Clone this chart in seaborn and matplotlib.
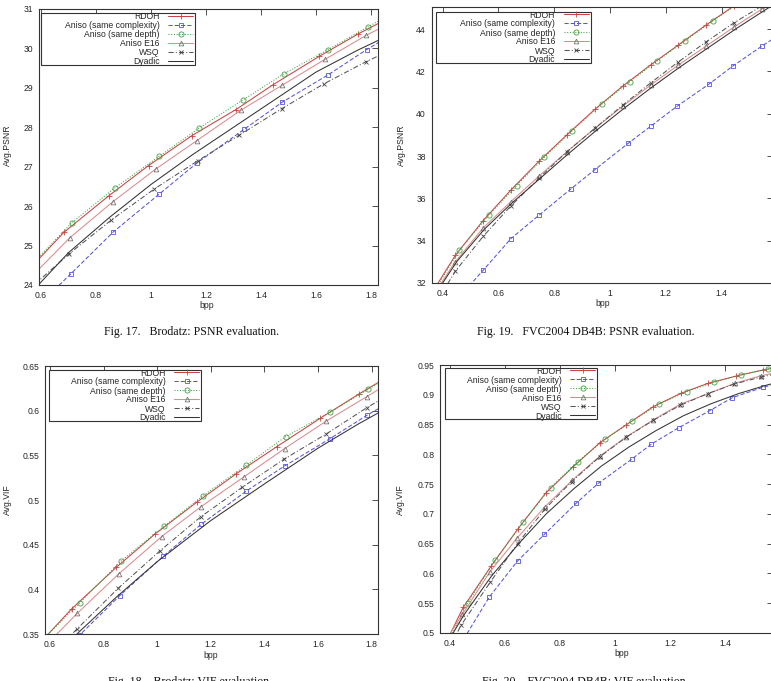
import matplotlib
matplotlib.use('Agg')
import matplotlib.pyplot as plt
import seaborn as sns
from matplotlib.patches import Rectangle
from matplotlib.ticker import FuncFormatter

sns.set_style('white')
plt.rcParams['font.family'] = ['Liberation Sans', 'DejaVu Sans']

W, H = 771, 681
LABELS = ["RDOH", "Aniso (same complexity)", "Aniso (same depth)", "Aniso E16", "WSQ", "Dyadic"]

# Fig. 17 - Brodatz PSNR
b_psnr_rdoh_x = [0.55, 0.684, 0.846, 0.991, 1.149, 1.309, 1.444, 1.612, 1.754, 1.90]
b_psnr_rdoh_y = [24.35, 25.34, 26.26, 27.03, 27.79, 28.45, 29.08, 29.80, 30.37, 30.90]
b_psnr_cplx_x = [0.60, 0.708, 0.862, 1.029, 1.168, 1.339, 1.478, 1.644, 1.784, 1.90]
b_psnr_cplx_y = [23.55, 24.28, 25.34, 26.30, 27.10, 27.95, 28.64, 29.33, 29.97, 30.45]
b_psnr_depth_x = [0.55, 0.712, 0.868, 1.029, 1.175, 1.336, 1.484, 1.644, 1.790, 1.90]
b_psnr_depth_y = [24.40, 25.58, 26.46, 27.26, 27.98, 28.70, 29.36, 29.97, 30.55, 30.98]
b_psnr_e16_x = [0.55, 0.705, 0.861, 1.017, 1.166, 1.326, 1.475, 1.632, 1.782, 1.90]
b_psnr_e16_y = [24.10, 25.20, 26.11, 26.94, 27.66, 28.43, 29.06, 29.72, 30.33, 30.75]
b_psnr_wsq_x = [0.55, 0.702, 0.856, 1.011, 1.170, 1.321, 1.475, 1.628, 1.781, 1.90]
b_psnr_wsq_y = [23.85, 24.79, 25.65, 26.43, 27.15, 27.80, 28.47, 29.10, 29.66, 30.05]
b_psnr_dyad_x = [0.55, 0.70, 0.85, 1.00, 1.15, 1.30, 1.45, 1.60, 1.75, 1.90]
b_psnr_dyad_y = [23.70, 24.82, 25.72, 26.55, 27.30, 28.00, 28.70, 29.40, 29.95, 30.45]

# Fig. 19 - FVC2004 DB4B PSNR
f_psnr_rdoh_x = [0.36, 0.445, 0.545, 0.645, 0.745, 0.845, 0.945, 1.045, 1.145, 1.245, 1.345, 1.445]
f_psnr_rdoh_y = [31.5, 33.3, 34.95, 36.4, 37.75, 39.0, 40.2, 41.3, 42.3, 43.25, 44.2, 45.1]
f_psnr_cplx_x = [0.45, 0.545, 0.645, 0.745, 0.86, 0.945, 1.065, 1.145, 1.24, 1.355, 1.44, 1.545, 1.65]
f_psnr_cplx_y = [31.2, 32.6, 34.1, 35.2, 36.45, 37.35, 38.6, 39.4, 40.35, 41.4, 42.25, 43.2, 44.1]
f_psnr_depth_x = [0.36, 0.46, 0.565, 0.665, 0.765, 0.865, 0.97, 1.07, 1.17, 1.27, 1.37, 1.47]
f_psnr_depth_y = [31.4, 33.55, 35.2, 36.6, 37.95, 39.2, 40.45, 41.5, 42.5, 43.45, 44.4, 45.3]
f_psnr_e16_x = [0.36, 0.445, 0.545, 0.645, 0.745, 0.845, 0.945, 1.045, 1.145, 1.245, 1.345, 1.445, 1.545, 1.65]
f_psnr_e16_y = [31.3, 33.0, 34.6, 35.85, 37.05, 38.2, 39.3, 40.35, 41.35, 42.3, 43.2, 44.1, 44.95, 45.8]
f_psnr_wsq_x = [0.36, 0.445, 0.545, 0.645, 0.745, 0.845, 0.945, 1.045, 1.145, 1.245, 1.345, 1.445, 1.545, 1.65]
f_psnr_wsq_y = [30.7, 32.55, 34.2, 35.65, 36.95, 38.2, 39.3, 40.4, 41.45, 42.45, 43.4, 44.3, 45.1, 45.9]
f_psnr_dyad_x = [0.36, 0.45, 0.55, 0.65, 0.75, 0.85, 0.95, 1.05, 1.15, 1.25, 1.35, 1.45, 1.55, 1.65]
f_psnr_dyad_y = [31.2, 33.0, 34.55, 35.8, 36.95, 38.1, 39.2, 40.25, 41.25, 42.2, 43.1, 44.0, 44.85, 45.7]

# Fig. 18 - Brodatz VIF
b_vif_rdoh_x = [0.55, 0.68, 0.847, 0.992, 1.147, 1.293, 1.446, 1.608, 1.753, 1.90]
b_vif_rdoh_y = [0.336, 0.378, 0.4246, 0.462, 0.4974, 0.529, 0.5597, 0.5914, 0.6187, 0.645]
b_vif_cplx_x = [0.60, 0.711, 0.860, 1.023, 1.164, 1.333, 1.475, 1.643, 1.784, 1.90]
b_vif_cplx_y = [0.318, 0.349, 0.3929, 0.4373, 0.4728, 0.5101, 0.538, 0.5683, 0.5951, 0.615]
b_vif_depth_x = [0.55, 0.711, 0.866, 1.027, 1.172, 1.333, 1.479, 1.644, 1.788, 1.90]
b_vif_depth_y = [0.337, 0.385, 0.432, 0.4709, 0.5049, 0.5392, 0.5709, 0.5981, 0.6239, 0.645]
b_vif_e16_x = [0.55, 0.701, 0.856, 1.016, 1.163, 1.324, 1.475, 1.631, 1.782, 1.90]
b_vif_e16_y = [0.327, 0.373, 0.4172, 0.459, 0.4925, 0.526, 0.5575, 0.5884, 0.6157, 0.637]
b_vif_wsq_x = [0.55, 0.699, 0.854, 1.011, 1.163, 1.317, 1.472, 1.631, 1.782, 1.90]
b_vif_wsq_y = [0.31, 0.3552, 0.4011, 0.4433, 0.4813, 0.5142, 0.5455, 0.5739, 0.6033, 0.624]
b_vif_dyad_x = [0.60, 0.70, 0.85, 1.00, 1.20, 1.40, 1.60, 1.75, 1.90]
b_vif_dyad_y = [0.32, 0.35, 0.392, 0.431, 0.477, 0.518, 0.558, 0.585, 0.61]

# Fig. 20 - FVC2004 DB4B VIF
f_vif_rdoh_x = [0.36, 0.448, 0.549, 0.648, 0.749, 0.848, 0.945, 1.04, 1.139, 1.24, 1.339, 1.442, 1.539, 1.64]
f_vif_rdoh_y = [0.46, 0.543, 0.612, 0.6754, 0.7354, 0.7791, 0.8195, 0.8492, 0.88, 0.9025, 0.9193, 0.9316, 0.9417, 0.95]
f_vif_cplx_x = [0.45, 0.543, 0.646, 0.743, 0.858, 0.939, 1.061, 1.133, 1.232, 1.345, 1.427, 1.539, 1.64]
f_vif_cplx_y = [0.49, 0.5605, 0.6211, 0.6654, 0.7175, 0.7511, 0.792, 0.8173, 0.8447, 0.8733, 0.8952, 0.9126, 0.925]
f_vif_depth_x = [0.36, 0.464, 0.564, 0.667, 0.766, 0.864, 0.964, 1.063, 1.161, 1.261, 1.36, 1.458, 1.558, 1.66]
f_vif_depth_y = [0.455, 0.55, 0.6222, 0.6867, 0.7438, 0.7876, 0.8251, 0.8559, 0.8845, 0.9053, 0.921, 0.9333, 0.9434, 0.951]
f_vif_e16_x = [0.36, 0.445, 0.545, 0.645, 0.745, 0.845, 0.945, 1.042, 1.139, 1.239, 1.337, 1.436, 1.533, 1.64]
f_vif_e16_y = [0.47, 0.5314, 0.6026, 0.6598, 0.7119, 0.7567, 0.7971, 0.8296, 0.8576, 0.8845, 0.9013, 0.9193, 0.9322, 0.942]
f_vif_wsq_x = [0.36, 0.44, 0.547, 0.646, 0.745, 0.842, 0.945, 1.042, 1.139, 1.236, 1.337, 1.434, 1.533, 1.64]
f_vif_wsq_y = [0.44, 0.5129, 0.5858, 0.6502, 0.708, 0.754, 0.796, 0.829, 0.857, 0.882, 0.902, 0.918, 0.930, 0.940]
f_vif_dyad_x = [0.36, 0.45, 0.55, 0.65, 0.75, 0.85, 0.95, 1.05, 1.15, 1.25, 1.35, 1.45, 1.55, 1.65]
f_vif_dyad_y = [0.46, 0.53, 0.595, 0.65, 0.70, 0.742, 0.78, 0.812, 0.84, 0.865, 0.885, 0.902, 0.916, 0.928]

# gnuplot-like line styles, same order as LABELS
STYLES = [
    dict(color='#c84444', linestyle='-', marker='+', markersize=4.0, markeredgecolor='#c84444'),
    dict(color='#5555dd', linestyle=(0, (4, 2)), marker='s', markersize=3.5, markeredgecolor='#5555dd'),
    dict(color='#44a044', linestyle=(0, (1, 1.6)), marker='o', markersize=3.7, markeredgecolor='#44a044'),
    dict(color='#d98c8c', linestyle='-', marker='^', markersize=3.4, markeredgecolor='#777777'),
    dict(color='#555555', linestyle=(0, (5, 2, 1, 2)), marker='x', markersize=3.4, markeredgecolor='#444444'),
    dict(color='#333333', linestyle='-', marker='', markersize=0, markeredgecolor='#333333'),
]

PANELS = [
    dict(box=(39, 9, 378, 285), xlim=(0.5927, 1.8255), ylim=(24, 31),
         xticks=[0.6, 0.8, 1.0, 1.2, 1.4, 1.6, 1.8], yticks=[24, 25, 26, 27, 28, 29, 30, 31],
         ylabel="Avg.PSNR", ylab_pos=(7, 145), xlab_pos=(207, 306),
         legend=(40.7, 12.7, 195, 65),
         caption="Fig. 17.   Brodatz: PSNR evaluation.", cap_pos=(191, 335),
         series=[(b_psnr_rdoh_x, b_psnr_rdoh_y), (b_psnr_cplx_x, b_psnr_cplx_y),
                 (b_psnr_depth_x, b_psnr_depth_y), (b_psnr_e16_x, b_psnr_e16_y),
                 (b_psnr_wsq_x, b_psnr_wsq_y), (b_psnr_dyad_x, b_psnr_dyad_y)]),
    dict(box=(431.5, 7, 773, 283), xlim=(0.36, 1.584), ylim=(32, 45.04),
         xticks=[0.4, 0.6, 0.8, 1.0, 1.2, 1.4], yticks=[32, 34, 36, 38, 40, 42, 44],
         ylabel="Avg.PSNR", ylab_pos=(401, 145), xlab_pos=(603, 304),
         legend=(435.7, 11.7, 590.7, 63.3),
         caption="Fig. 19.   FVC2004 DB4B: PSNR evaluation.", cap_pos=(586, 335),
         series=[(f_psnr_rdoh_x, f_psnr_rdoh_y), (f_psnr_cplx_x, f_psnr_cplx_y),
                 (f_psnr_depth_x, f_psnr_depth_y), (f_psnr_e16_x, f_psnr_e16_y),
                 (f_psnr_wsq_x, f_psnr_wsq_y), (f_psnr_dyad_x, f_psnr_dyad_y)]),
    dict(box=(45, 366, 378, 634), xlim=(0.581, 1.824), ylim=(0.35, 0.65),
         xticks=[0.6, 0.8, 1.0, 1.2, 1.4, 1.6, 1.8],
         yticks=[0.35, 0.4, 0.45, 0.5, 0.55, 0.6, 0.65],
         ylabel="Avg.VIF", ylab_pos=(7, 500), xlab_pos=(211, 655),
         legend=(49.3, 370, 201, 421),
         caption="Fig. 18.   Brodatz: VIF evaluation.", cap_pos=(190, 685),
         series=[(b_vif_rdoh_x, b_vif_rdoh_y), (b_vif_cplx_x, b_vif_cplx_y),
                 (b_vif_depth_x, b_vif_depth_y), (b_vif_e16_x, b_vif_e16_y),
                 (b_vif_wsq_x, b_vif_wsq_y), (b_vif_dyad_x, b_vif_dyad_y)]),
    dict(box=(440, 365, 773, 633), xlim=(0.3636, 1.575), ylim=(0.5, 0.95),
         xticks=[0.4, 0.6, 0.8, 1.0, 1.2, 1.4],
         yticks=[0.5, 0.55, 0.6, 0.65, 0.7, 0.75, 0.8, 0.85, 0.9, 0.95],
         ylabel="Avg.VIF", ylab_pos=(400, 500), xlab_pos=(622, 653),
         legend=(445, 368, 597, 419),
         caption="Fig. 20.   FVC2004 DB4B: VIF evaluation.", cap_pos=(585, 685),
         series=[(f_vif_rdoh_x, f_vif_rdoh_y), (f_vif_cplx_x, f_vif_cplx_y),
                 (f_vif_depth_x, f_vif_depth_y), (f_vif_e16_x, f_vif_e16_y),
                 (f_vif_wsq_x, f_vif_wsq_y), (f_vif_dyad_x, f_vif_dyad_y)]),
]

TXT = '#262626'
FS = 6.2


def fx(px):
    return px / W


def fy(py):
    return 1 - py / H


fig = plt.figure(figsize=(W / 100, H / 100), dpi=100)

for p in PANELS:
    l, t, r, b = p["box"]
    ax = fig.add_axes([fx(l), fy(b), (r - l) / W, (b - t) / H])
    for label, (xs, ys), st in zip(LABELS, p["series"], STYLES):
        sns.lineplot(x=xs, y=ys, ax=ax, estimator=None, sort=False, label=label,
                     linewidth=0.75, markerfacecolor='none', markeredgewidth=0.6, **st)
    ax.set_xlim(*p["xlim"])
    ax.set_ylim(*p["ylim"])
    ax.set_xticks(p["xticks"])
    ax.set_yticks(p["yticks"])
    ax.xaxis.set_major_formatter(FuncFormatter(lambda v, pos: '%g' % round(v, 3)))
    ax.yaxis.set_major_formatter(FuncFormatter(lambda v, pos: '%g' % round(v, 3)))
    ax.tick_params(direction='in', length=4, width=0.6, top=True, right=True,
                   labelsize=FS, labelcolor=TXT, color='#333333', pad=4)
    for s in ax.spines.values():
        s.set_linewidth(0.8)
        s.set_color('#333333')
    ax.set_xlabel('')
    ax.set_ylabel('')

    # key box drawn like gnuplot: framed, right-aligned labels, samples on the right
    ll, lt, lr, lb = p["legend"]
    handles, labels = ax.get_legend_handles_labels()
    leg = ax.legend(handles, labels, loc='center right',
                    bbox_to_anchor=(fx(lr - 2), fy((lt + lb) / 2)), bbox_transform=fig.transFigure,
                    frameon=False, markerfirst=False, fontsize=FS, handlelength=2.9,
                    handletextpad=1.0, borderpad=0, borderaxespad=0, labelspacing=0.0)
    for txt in leg.get_texts():
        txt.set_color(TXT)
    leg.set_zorder(6)
    frame = Rectangle((fx(ll), fy(lb)), (lr - ll) / W, (lb - lt) / H, transform=fig.transFigure,
                      facecolor='white', edgecolor='#333333', linewidth=0.8, zorder=5.5)
    ax.add_artist(frame)
    frame.set_clip_on(False)

    fig.text(fx(p["xlab_pos"][0]), fy(p["xlab_pos"][1]), 'bpp', ha='center', va='center',
             fontsize=FS, color=TXT)
    fig.text(fx(p["ylab_pos"][0]), fy(p["ylab_pos"][1]), p["ylabel"], ha='center', va='center',
             rotation=90, fontsize=FS, color=TXT)
    fig.text(fx(p["cap_pos"][0]), fy(p["cap_pos"][1]), p["caption"], ha='center', va='baseline',
             fontsize=8.6, color='#111111', family=['Liberation Serif', 'DejaVu Serif'])

fig.savefig('out.png', dpi=100)
